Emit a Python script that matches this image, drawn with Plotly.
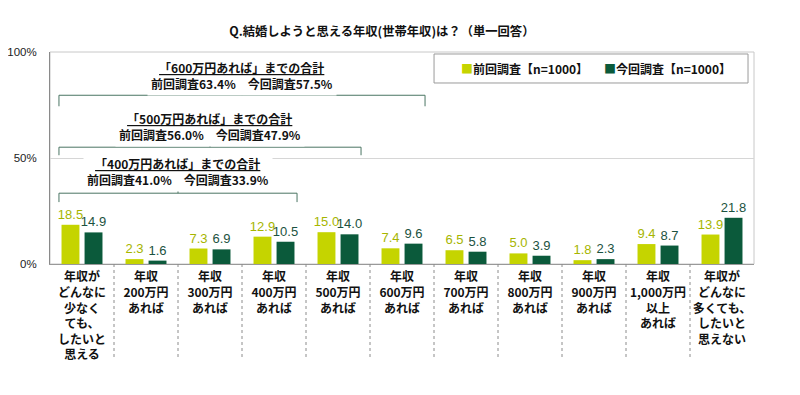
import plotly.graph_objects as go

categories = [
    "年収が<br>どんなに<br>少なく<br>ても、<br>したいと<br>思える",
    "年収<br>200万円<br>あれば",
    "年収<br>300万円<br>あれば",
    "年収<br>400万円<br>あれば",
    "年収<br>500万円<br>あれば",
    "年収<br>600万円<br>あれば",
    "年収<br>700万円<br>あれば",
    "年収<br>800万円<br>あれば",
    "年収<br>900万円<br>あれば",
    "年収<br>1,000万円<br>以上<br>あれば",
    "年収が<br>どんなに<br>多くても、<br>したいと<br>思えない",
]
prev_name = "前回調査【n=1000】"
curr_name = "今回調査【n=1000】"
prev_values = [18.5, 2.3, 7.3, 12.9, 15.0, 7.4, 6.5, 5.0, 1.8, 9.4, 13.9]
curr_values = [14.9, 1.6, 6.9, 10.5, 14.0, 9.6, 5.8, 3.9, 2.3, 8.7, 21.8]

bracket_labels = ["400万円", "500万円", "600万円"]
bracket_end_index = [3, 4, 5]
bracket_prev_total = [41.0, 56.0, 63.4]
bracket_curr_total = [33.9, 47.9, 57.5]

y_tickvals = [0, 50, 100]
y_ticktext = ["0%", "50%", "100%"]

LIME = "#c5d400"
DARK = "#0b5a3b"
LIME_TXT = "#a6b500"
DARK_TXT = "#1b5240"
JP = "Noto Sans CJK JP"
NUM = "Liberation Sans, Arial, sans-serif"

x = list(range(len(categories)))

fig = go.Figure()
fig.add_trace(go.Bar(
    x=x, y=prev_values, name=prev_name, width=0.28, offset=-0.32,
    marker=dict(color=LIME, line=dict(width=0)),
    text=[f"{v:.1f}" for v in prev_values], textposition="outside",
    textfont=dict(family=NUM, size=13, color=LIME_TXT),
    constraintext="none", cliponaxis=False, showlegend=False,
))
fig.add_trace(go.Bar(
    x=x, y=curr_values, name=curr_name, width=0.28, offset=0.04,
    marker=dict(color=DARK, line=dict(width=0)),
    text=[f"{v:.1f}" for v in curr_values], textposition="outside",
    textfont=dict(family=NUM, size=13, color=DARK_TXT),
    constraintext="none", cliponaxis=False, showlegend=False,
))
# legend entries (one legend each, so they can be placed exactly)
for nm, col, lg in [(prev_name, LIME, "legend"), (curr_name, DARK, "legend2")]:
    fig.add_trace(go.Scatter(
        x=[None], y=[None], mode="markers", legend=lg,
        marker=dict(size=1, color="rgba(0,0,0,0)"),
        name=f"<span style='color:{col}'>■</span>{nm}",
    ))

shapes = []
# category separators below axis
for i in range(len(categories) - 1):
    shapes.append(dict(type="line", xref="x", yref="paper", x0=i + 0.5, x1=i + 0.5,
                       y0=0, y1=-0.443, line=dict(color="#8c8c8c", width=1, dash="dot")))
# plot border (top/right)
shapes.append(dict(type="rect", xref="paper", yref="paper", x0=0, x1=1, y0=0, y1=1,
                   line=dict(color="#c8c8c8", width=1), layer="below"))
# legend frame
shapes.append(dict(type="rect", xref="paper", yref="paper", x0=0.5455, x1=0.9915,
                   y0=0.8538, y1=0.9906, fillcolor="white",
                   line=dict(color="#9a9a9a", width=1)))

# brackets
bracket_geom = [  # (top y, end y, text y)
    (33.4, 29.2, 43.8),
    (55.1, 51.3, 64.7),
    (79.6, 74.4, 88.7),
]
annotations = []
BR = "#4a7563"
for k, (lab, end, pv, cv) in enumerate(zip(bracket_labels, bracket_end_index,
                                            bracket_prev_total, bracket_curr_total)):
    top, bot, ty = bracket_geom[k]
    x0, x1 = -0.36, end + 0.36
    xm = (x0 + x1) / 2
    for (ax0, ay0, ax1, ay1) in [(x0, top, x1, top), (x0, top, x0, bot), (x1, top, x1, bot),
                                 (xm, top, xm, top + 1.3)]:
        shapes.append(dict(type="line", xref="x", yref="y", x0=ax0, y0=ay0, x1=ax1, y1=ay1,
                           line=dict(color=BR, width=1)))
    annotations.append(dict(
        x=xm, y=ty, xref="x", yref="y", showarrow=False,
        text=f"<u>「{lab}あれば」までの合計</u><br>前回調査{pv:.1f}%　今回調査{cv:.1f}%",
        font=dict(family=JP, size=12, color="#111111", weight="bold"),
        bgcolor="white", borderpad=3, align="center",
    ))

legend_common = dict(orientation="h", y=0.989, xanchor="left", yanchor="top",
                     borderwidth=0, bgcolor="rgba(0,0,0,0)",
                     font=dict(family=JP, size=12, color="#111111", weight="bold"),
                     itemwidth=30)

fig.update_layout(
    width=792, height=387,
    margin=dict(l=42, r=46, t=44, b=131, autoexpand=False),
    paper_bgcolor="white", plot_bgcolor="white",
    title=dict(text="Q.結婚しようと思える年収(世帯年収)は？（単一回答）",
               x=0.472, xanchor="center", y=0.938, yanchor="middle",
               font=dict(family=JP, size=12.3, color="#111111", weight="bold")),
    barmode="overlay",
    xaxis=dict(range=[-0.5, len(categories) - 0.5], tickvals=x, ticktext=categories,
               showgrid=False, zeroline=False, showline=True, linecolor="#999999",
               tickfont=dict(family=JP, size=12, color="#111111", weight="bold"),
               tickangle=0, automargin=False, ticklabelstandoff=2,
               ticks="", fixedrange=True),
    yaxis=dict(range=[0, 100], tickvals=y_tickvals, ticktext=y_ticktext,
               showgrid=True, gridcolor="#d6d6d6", zeroline=False,
               showline=True, linecolor="#8a8a8a", automargin=False,
               tickfont=dict(family=NUM, size=11.5, color="#222222"),
               ticks="", ticklabelstandoff=10, fixedrange=True),
    legend=dict(x=0.527, **legend_common),
    legend2=dict(x=0.730, **legend_common),
    shapes=shapes, annotations=annotations,
)

fig.write_html("out.html")
